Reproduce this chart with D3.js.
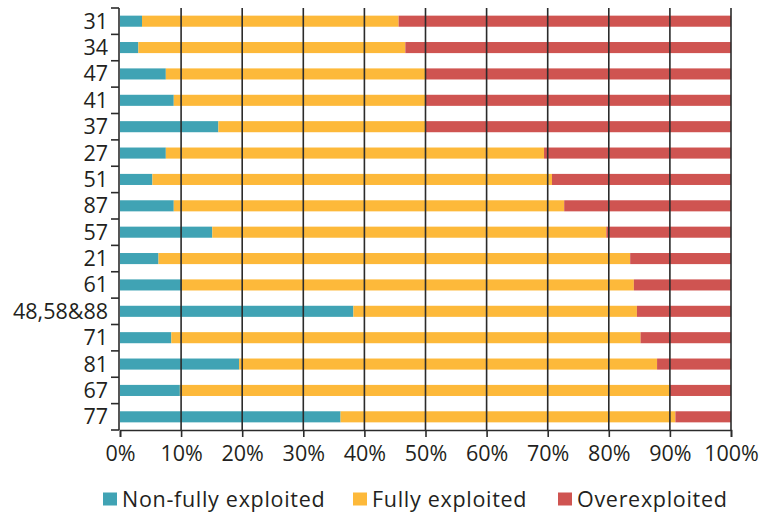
<!DOCTYPE html>
<html><head><meta charset="utf-8">
<script src="https://cdn.jsdelivr.net/npm/d3@7"></script>
<style>body{margin:0;background:#fff}svg{display:block}</style>
</head><body>
<script>
const categories = ["31","34","47","41","37","27","51","87","57","21","61","48,58&88","71","81","67","77"];
const nonFully   = [3.6, 3.0, 7.5, 8.8, 16.1, 7.5, 5.3, 8.8, 15.1, 6.3, 10.1, 38.2, 8.4, 19.5, 9.8, 36.1];
const fully      = [42.0, 43.7, 42.5, 41.2, 33.9, 61.9, 65.4, 63.9, 64.5, 77.2, 74.0, 46.4, 76.8, 68.4, 80.2, 54.8];
const over       = [54.4, 53.3, 50.0, 50.0, 50.0, 30.6, 29.3, 27.3, 20.4, 16.5, 15.9, 15.4, 14.8, 12.1, 10.0, 9.1];
const seriesNames = ["Non-fully exploited","Fully exploited","Overexploited"];
const xTicks = [0,10,20,30,40,50,60,70,80,90,100];

const W = 764, H = 513;
const m = {left:120, right:33, top:8, bottom:83};
const colors = ["#40a3b4","#fdb93a","#cf5451"];
const font = "'Open Sans', sans-serif";
const fs = 21.5;

const svg = d3.select("body").append("svg").attr("width",W).attr("height",H)
  .style("font-family", font);

const x = d3.scaleLinear().domain([0,100]).range([m.left, W-m.right]);
const y = d3.scaleBand().domain(categories).range([m.top, H-m.bottom]).paddingInner(0.58).paddingOuter(0.29);
const yb = d3.scaleLinear().domain([0,categories.length]).range([m.top, H-m.bottom]);

const rows = categories.map((c,i)=>({cat:c, "Non-fully exploited":nonFully[i], "Fully exploited":fully[i], "Overexploited":over[i]}));
const stack = d3.stack().keys(seriesNames)(rows);

// bars
svg.append("g").selectAll("g").data(stack).join("g").attr("fill",(d,i)=>colors[i])
  .selectAll("rect").data(d=>d).join("rect")
  .attr("x",d=>x(d[0])).attr("width",d=>x(d[1])-x(d[0]))
  .attr("y",d=>y(d.data.cat)).attr("height",y.bandwidth());

// gridlines (drawn over bars)
svg.append("g").selectAll("line").data(xTicks.slice(1)).join("line")
  .attr("x1",d=>x(d)).attr("x2",d=>x(d)).attr("y1",m.top).attr("y2",H-m.bottom)
  .attr("stroke","#2b2b2b").attr("stroke-width",1.6);

// x axis
const xAxis = svg.append("g").attr("transform",`translate(0,${H-m.bottom})`)
  .call(d3.axisBottom(x).tickValues(xTicks).tickFormat(d=>d+"%").tickSize(7).tickPadding(9));
xAxis.select(".domain").attr("stroke","#2b2b2b").attr("stroke-width",1.6);
xAxis.selectAll(".tick line").attr("stroke","#2b2b2b").attr("stroke-width",1.6);
xAxis.selectAll("text").attr("font-size",fs).attr("font-family",font).attr("fill","#231f20");

// y axis: ticks at band boundaries
const yAxisG = svg.append("g").attr("transform",`translate(${m.left-1},0)`);
yAxisG.append("line").attr("x1",0).attr("x2",0).attr("y1",m.top).attr("y2",H-m.bottom)
  .attr("stroke","#2b2b2b").attr("stroke-width",1.6);
yAxisG.selectAll("line.t").data(d3.range(categories.length+1)).join("line").attr("class","t")
  .attr("x1",-8).attr("x2",0).attr("y1",d=>yb(d)).attr("y2",d=>yb(d))
  .attr("stroke","#2b2b2b").attr("stroke-width",1.6);
yAxisG.selectAll("text").data(categories).join("text")
  .attr("x",-11).attr("y",d=>y(d)+y.bandwidth()/2).attr("dy","0.35em")
  .attr("text-anchor","end").attr("font-size",fs).attr("fill","#231f20").text(d=>d);

// legend
const legX = [103, 353, 558];
const leg = svg.append("g").attr("transform","translate(0,499)");
seriesNames.forEach((s,i)=>{
  leg.append("rect").attr("x",legX[i]).attr("y",-6.5).attr("width",14).attr("height",13).attr("fill",colors[i]);
  leg.append("text").attr("x",legX[i]+19).attr("y",0).attr("dy","0.35em")
    .attr("font-size",fs).attr("letter-spacing",0.7).attr("fill","#231f20").text(s);
});
</script>
</body></html>
